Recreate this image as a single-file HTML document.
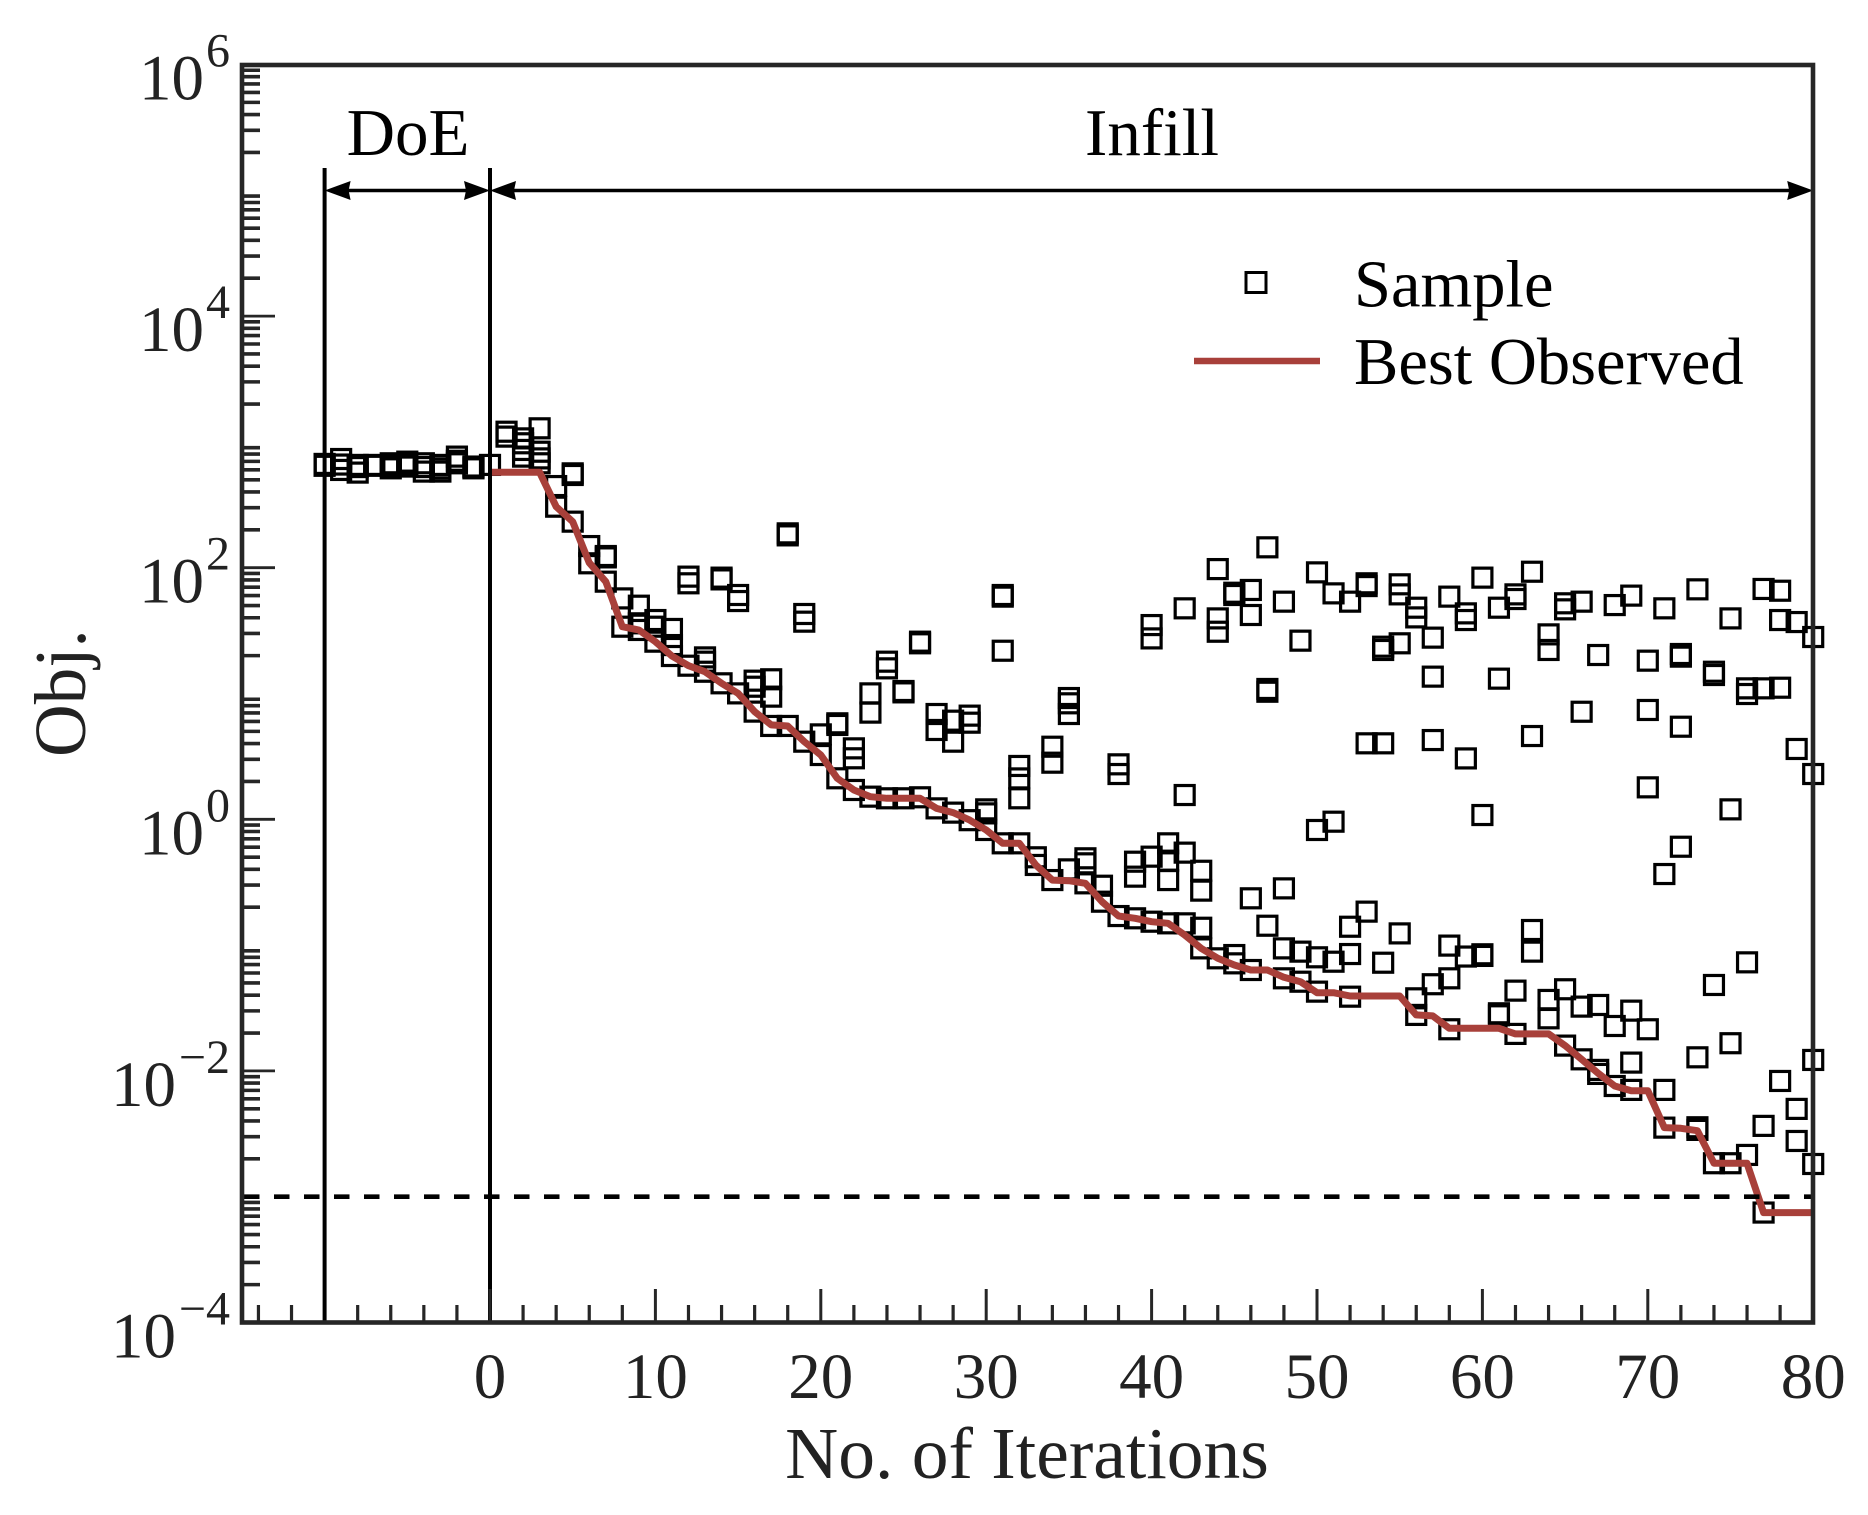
<!DOCTYPE html>
<html lang="en">
<head>
<meta charset="utf-8">
<title>Objective vs. iterations</title>
<style>
html,body{margin:0;padding:0;background:#fff;width:1868px;height:1515px;overflow:hidden}
svg{display:block;font-family:"Liberation Serif",serif}
</style>
</head>
<body>
<svg id="chart" xmlns="http://www.w3.org/2000/svg" width="1868" height="1515" viewBox="0 0 1868 1515">
  <g id="doe-markers"></g>
  <g id="best-layer"></g>
  <g id="ref-lines"></g>
  <g id="ticks"></g>
  <rect x="242" y="65" width="1571" height="1257.5" fill="none" stroke="#262626" stroke-width="4.6"/>
  <g id="tick-labels" fill="#222"></g>
  <text x="1027" y="1478" font-size="73.5" text-anchor="middle" fill="#222">No. of Iterations</text>
  <text transform="translate(85,757) rotate(-90)" font-size="73" fill="#222">Obj.</text>
  <text x="408" y="155" font-size="67" text-anchor="middle" fill="#000">DoE</text>
  <text x="1152" y="155" font-size="67" text-anchor="middle" fill="#000">Infill</text>
  <g>
    <rect x="1246" y="272.5" width="20" height="20" fill="none" stroke="#000" stroke-width="3"/>
    <text x="1354" y="306.5" font-size="66.5" fill="#000">Sample</text>
    <line x1="1194" x2="1320" y1="361" y2="361" stroke="#a8403a" stroke-width="6.5"/>
    <text x="1354" y="384" font-size="66.5" fill="#000">Best Observed</text>
  </g>
</svg>
<script>
// Iterations (x) with samples; negative = DoE phase
const sampleIterations = [-10,-9,-8,-7,-6,-5,-4,-3,-2,-1,0,1,2,3,4,5,6,7,8,9,10,11,12,13,14,15,16,17,18,19,20,21,22,23,24,25,26,27,28,29,30,31,32,33,34,35,36,37,38,39,40,41,42,43,44,45,46,47,48,49,50,51,52,53,54,55,56,57,58,59,60,61,62,63,64,65,66,67,68,69,70,71,72,73,74,75,76,77,78,79,80];
// log10(Obj.) of every sample, one inner list per iteration
const sampleLogObj = [
[2.817,2.81,2.825],[2.864,2.777,2.82],[2.817,2.756,2.80],[2.817,2.81],[2.83,2.79,2.81],[2.843,2.804,2.825],[2.83,2.764,2.80],[2.817,2.764,2.79],[2.883,2.83,2.85],[2.804,2.80,2.79],[2.817],
[3.081,3.042],[3.028,2.989,2.936,2.883],[3.108,2.922,2.869,2.830],[2.649,2.485],[2.750,2.737,2.366],[2.172,2.035],[2.093,2.082,1.889],[1.756,1.531],[1.698,1.558,1.505],[1.584,1.531,1.412],
[1.513,1.385,1.298],[1.929,1.876,1.221],[1.287,1.253,1.173],[1.921,1.907,1.081],[1.783,1.735,1.001],[1.102,1.054,0.856],[1.113,0.975,0.742],[2.273,2.257,0.742],[1.632,1.571,0.617],[0.675,0.511],
[0.763,0.750,0.326],[0.564,0.485,0.233],[1.001,0.848,0.180],[1.253,1.200,0.167],[1.020,1.009,0.167],[1.412,1.399,0.175],[0.837,0.710,0.087],[0.784,0.617,0.053],[0.824,0.768,-0.007],[0.079,0.047,-0.085],
[1.783,1.770,1.340,-0.191],[0.424,0.325,0.167,-0.191],[-0.302,-0.363],[0.577,0.450,-0.483],[0.964,0.922,0.837,-0.398],[-0.310,-0.350,-0.509],[-0.528,-0.655],[0.437,0.360,-0.769],[-0.337,-0.456,-0.787],[1.544,1.438,-0.297,-0.814],
[-0.191,-0.329,-0.483,-0.827],[1.677,0.193,-0.265,-0.827],[-0.409,-0.567,-0.862,-1.026],[1.989,1.597,1.491,-1.105],[1.801,1.783,-1.079,-1.145],[1.823,1.624,-0.628,-1.198],[2.162,1.036,1.014,-0.846],[1.730,-0.549,-1.026,-1.264],[1.420,-1.052,-1.291],[1.963,-0.085,-1.097,-1.370],
[1.796,-0.019,-1.132],[1.730,-0.854,-1.071,-1.410],[1.876,1.854,0.604,-0.734],[1.372,1.346,0.604,-1.140],[1.868,1.788,1.399,-0.907],[1.682,1.605,-1.423,-1.555],[1.444,1.134,0.630,-1.311],[1.770,-1.004,-1.264,-1.669],[1.637,1.584,0.484,-1.091],[1.921,0.034,-1.073,-1.086],
[1.682,1.118,-1.542,-1.558],[1.788,1.751,-1.362,-1.706],[1.968,0.662,-0.880,-1.052],[1.470,1.346,-1.436,-1.582],[1.717,1.669,-1.351,-1.799],[1.730,0.855,-1.489,-1.908],[1.306,-1.476,-1.992,-2.024],[1.703,-1.643,-2.120],[1.778,-1.521,-1.934,-2.151],[1.261,0.869,0.254,-1.669],
[1.677,-0.435,-2.151,-2.451],[1.314,1.293,0.736,-0.218],[1.828,-1.892,-2.448,-2.469],[1.173,1.147,-1.317,-2.734],[1.597,0.079,-1.780,-2.734],[1.041,0.996,-1.137,-2.668],[1.831,1.041,-2.437,-3.126],[1.817,1.584,1.046,-2.080],[1.568,0.559,-2.302,-2.557],[1.449,0.360,-1.913,-2.740]
];
// Best observed curve, iterations 0..80
const bestIterations = [0,1,2,3,4,5,6,7,8,9,10,11,12,13,14,15,16,17,18,19,20,21,22,23,24,25,26,27,28,29,30,31,32,33,34,35,36,37,38,39,40,41,42,43,44,45,46,47,48,49,50,51,52,53,54,55,56,57,58,59,60,61,62,63,64,65,66,67,68,69,70,71,72,73,74,75,76,77,78,79,80];
const bestLogObj = [2.758,2.758,2.758,2.758,2.485,2.366,2.040,1.889,1.531,1.505,1.412,1.298,1.221,1.173,1.081,1.001,0.856,0.750,0.742,0.617,0.511,0.326,0.233,0.180,0.167,0.167,0.167,0.087,0.053,-0.006,-0.085,-0.191,-0.191,-0.363,-0.483,-0.488,-0.509,-0.655,-0.769,-0.787,-0.814,-0.827,-0.920,-1.026,-1.105,-1.158,-1.198,-1.198,-1.256,-1.291,-1.378,-1.378,-1.405,-1.405,-1.405,-1.405,-1.555,-1.563,-1.661,-1.661,-1.661,-1.661,-1.706,-1.706,-1.706,-1.799,-1.908,-2.019,-2.120,-2.157,-2.157,-2.451,-2.456,-2.475,-2.734,-2.734,-2.734,-3.126,-3.126,-3.126,-3.126];
// Axis tick values and reference values
const xTickLabels = [0,10,20,30,40,50,60,70,80];
const xMinorTicks = [-14,-12,-8,-6,-4,-2,2,4,6,8,12,14,16,18,22,24,26,28,32,34,36,38,42,44,46,48,52,54,56,58,62,64,66,68,72,74,76,78];
const yDecades = [-4,-2,0,2,4,6];
const yMinorDecades = [-4,-3,-2,-1,0,1,2,3,4,5];
const yMinorMultiples = [2,3,4,5,6,7,8,9];
const targetLogObj = -3;
const phaseBoundaries = [-10,0,80];

const SVGNS = 'http://www.w3.org/2000/svg';
function xScale(v){ return 490 + 16.54 * v; }
function yScale(e){ return 819.3 - 125.8 * e; }
function make(tag, parent, attrs){
  const el = document.createElementNS(SVGNS, tag);
  for (const k in attrs) el.setAttribute(k, attrs[k]);
  parent.appendChild(el);
  return el;
}

const markerLayer = document.getElementById('doe-markers');
const bestLayer = document.getElementById('best-layer');
const refLayer = document.getElementById('ref-lines');
const tickLayer = document.getElementById('ticks');
const labelLayer = document.getElementById('tick-labels');

// Sample markers
sampleIterations.forEach(function(it, i){
  sampleLogObj[i].forEach(function(v){
    const m = make('rect', markerLayer, {x: xScale(it) - 9.5, y: yScale(v) - 9.5, width: 19, height: 19, fill: 'none', stroke: '#000', 'stroke-width': 3.2});
    
    
  });
});

// Best observed line
const bestPts = bestIterations.map(function(it, i){ return xScale(it).toFixed(1) + ',' + yScale(bestLogObj[i]).toFixed(1); }).join(' ');
const bestLine = make('polyline', bestLayer, {points: bestPts, fill: 'none', stroke: '#a8403a', 'stroke-width': 7, 'stroke-linejoin': 'round'});



// Target dashed line
const targetLine = make('line', refLayer, {x1: 244, x2: 1811, y1: yScale(targetLogObj), y2: yScale(targetLogObj), stroke: '#000', 'stroke-width': 4.6, 'stroke-dasharray': '15.5 14.5'});



// Phase boundaries and span arrows
const arrowY = 190.5;
phaseBoundaries.slice(0, 2).forEach(function(b){
  const v = make('line', refLayer, {x1: xScale(b), x2: xScale(b), y1: 168, y2: 1322, stroke: '#000', 'stroke-width': 4});
  
  
});
function spanArrow(a, b){
  const xa = xScale(a), xb = xScale(b);
  const s = make('line', refLayer, {x1: xa + 10, x2: xb - 10, y1: arrowY, y2: arrowY, stroke: '#000', 'stroke-width': 3.6});
  
  
  const h1 = make('polygon', refLayer, {points: [xa, arrowY, xa + 26, arrowY - 9.5, xa + 24, arrowY, xa + 26, arrowY + 9.5].join(','), fill: '#000'});
  
  
  const h2 = make('polygon', refLayer, {points: [xb, arrowY, xb - 26, arrowY - 9.5, xb - 24, arrowY, xb - 26, arrowY + 9.5].join(','), fill: '#000'});
  
  
}
spanArrow(phaseBoundaries[0], phaseBoundaries[1]);
spanArrow(phaseBoundaries[1], phaseBoundaries[2]);

// X ticks
xMinorTicks.forEach(function(t){
  const l = make('line', tickLayer, {x1: xScale(t), x2: xScale(t), y1: 1322, y2: 1305, stroke: '#262626', 'stroke-width': 3.2});
  
  
});
xTickLabels.forEach(function(t){
  const l = make('line', tickLayer, {x1: xScale(t), x2: xScale(t), y1: 1322, y2: 1289, stroke: '#262626', 'stroke-width': 3});
  
  
  const txt = make('text', labelLayer, {x: xScale(t), y: 1398, 'font-size': 65, 'text-anchor': 'middle'});
  txt.textContent = String(t);
  
  
});

// Y ticks
yMinorDecades.forEach(function(d){
  yMinorMultiples.forEach(function(m){
    const yy = yScale(d + Math.log10(m));
    const l = make('line', tickLayer, {x1: 242, x2: 260, y1: yy, y2: yy, stroke: '#262626', 'stroke-width': 3.6});
    
    
  });
});
yDecades.forEach(function(d){
  const yy = yScale(d);
  const l = make('line', tickLayer, {x1: 242, x2: 275, y1: yy, y2: yy, stroke: '#262626', 'stroke-width': 2.8});
  
  
  const base = make('text', labelLayer, {x: d < 0 ? 176 : 204, y: yy + 35, 'font-size': 65, 'text-anchor': 'end'});
  base.textContent = '10';
  
  
  const sup = make('text', labelLayer, {x: 230, y: yy + 2, 'font-size': 48, 'text-anchor': 'end'});
  sup.textContent = d < 0 ? '\u2212' + Math.abs(d) : String(d);
  
  
});
</script>
</body>
</html>
